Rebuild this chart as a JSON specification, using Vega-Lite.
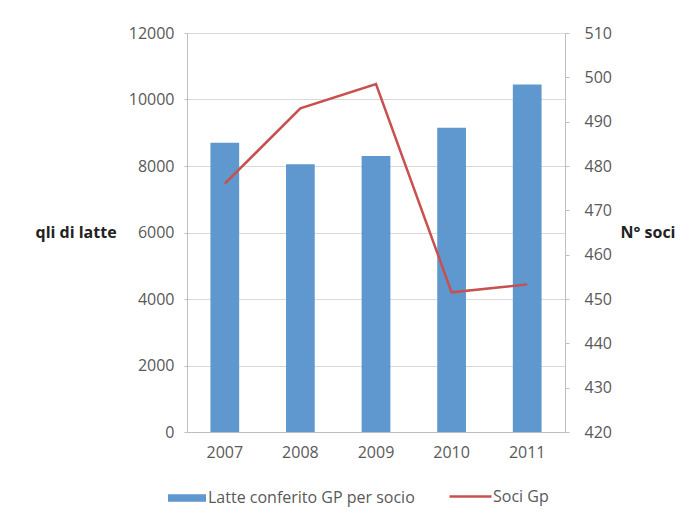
{
  "$schema": "https://vega.github.io/schema/vega-lite/v6.json",
  "autosize": {"type": "none"},
  "width": 378,
  "height": 399,
  "padding": {"left": 187, "top": 33, "right": 125, "bottom": 83},
  "background": "white",
  "config": {
    "font": "Open Sans",
    "view": {"stroke": null},
    "axis": {
      "labelFont": "Open Sans",
      "labelFontSize": 16,
      "labelColor": "#595959",
      "titleFont": "Open Sans",
      "titleFontSize": 16,
      "titleFontWeight": "bold",
      "titleColor": "#222222",
      "domainColor": "#BFBFBF",
      "tickColor": "#BFBFBF",
      "gridColor": "#D9D9D9"
    },
    "legend": {
      "labelFont": "Open Sans",
      "labelFontSize": 16,
      "labelColor": "#595959",
      "labelLimit": 0
    }
  },
  "data": {
    "values": [
      {"anno": "2007", "latte": 8700, "soci": 476},
      {"anno": "2008", "latte": 8050, "soci": 493},
      {"anno": "2009", "latte": 8300, "soci": 498.5},
      {"anno": "2010", "latte": 9150, "soci": 451.5},
      {"anno": "2011", "latte": 10450, "soci": 453.3}
    ]
  },
  "encoding": {
    "x": {
      "field": "anno",
      "type": "ordinal",
      "scale": {"paddingInner": 0.62, "paddingOuter": 0.31},
      "axis": {
        "title": null,
        "labelAngle": 0,
        "labelPadding": 12,
        "ticks": false,
        "domainColor": "#BFBFBF"
      }
    }
  },
  "layer": [
    {
      "mark": {"type": "bar", "color": "#5F97CF"},
      "encoding": {
        "y": {
          "field": "latte",
          "type": "quantitative",
          "scale": {"domain": [0, 12000], "nice": false},
          "axis": {
            "title": "qli di latte",
            "titleAngle": 0,
            "titleAlign": "left",
            "titleBaseline": "middle",
            "titleX": -152,
            "titleY": 199,
            "values": [0, 2000, 4000, 6000, 8000, 10000, 12000],
            "format": "d",
            "tickSize": 3,
            "labelPadding": 10,
            "grid": true
          }
        },
        "fill": {
          "datum": "Latte conferito GP per socio",
          "scale": {"range": ["#5F97CF"]},
          "legend": {
            "title": null,
            "orient": "none",
            "legendX": -19,
            "legendY": 446,
            "symbolType": "M-1,-0.2H1V0.2H-1Z",
            "symbolSize": 1444,
            "symbolStrokeWidth": 0,
            "labelOffset": 2
          }
        }
      }
    },
    {
      "mark": {"type": "line", "color": "#C8504F", "strokeWidth": 2.5},
      "encoding": {
        "y": {
          "field": "soci",
          "type": "quantitative",
          "scale": {"domain": [420, 510], "nice": false, "zero": false},
          "axis": {
            "orient": "right",
            "title": "N° soci",
            "titleAngle": 0,
            "titleAlign": "left",
            "titleBaseline": "middle",
            "titleX": 55,
            "titleY": 199,
            "values": [420, 430, 440, 450, 460, 470, 480, 490, 500, 510],
            "tickSize": 4,
            "labelPadding": 15,
            "grid": false
          }
        },
        "stroke": {
          "datum": "Soci Gp",
          "scale": {"range": ["#C8504F"]},
          "legend": {
            "title": null,
            "orient": "none",
            "legendX": 261,
            "legendY": 441,
            "symbolType": "M-1,0H1",
            "symbolSize": 1764,
            "symbolStrokeWidth": 2.5,
            "labelOffset": 0
          }
        }
      }
    }
  ],
  "resolve": {"scale": {"y": "independent"}}
}
